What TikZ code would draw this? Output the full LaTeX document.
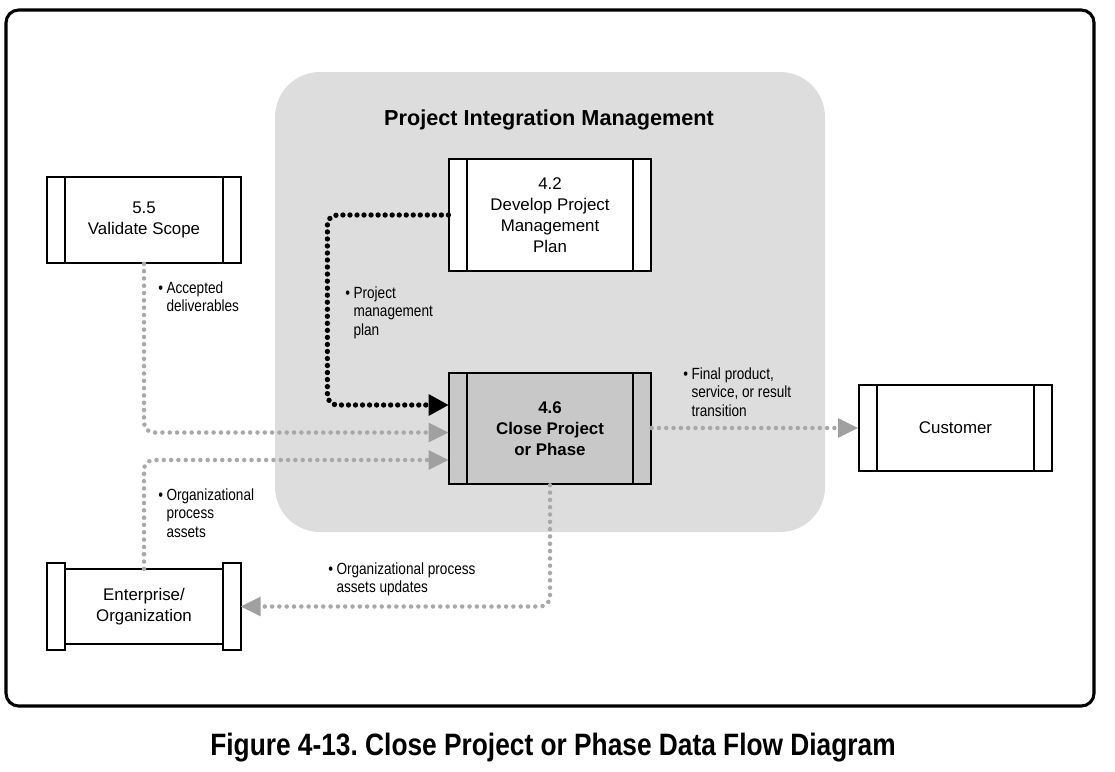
\documentclass[tikz,border=0pt]{standalone}
\usepackage{fontspec}
\setmainfont{Liberation Sans}
\newfontfamily\narrowfont{Liberation Sans}[FakeStretch=0.84]
\newfontfamily\captionfont{Liberation Sans}[FakeStretch=0.85]
\usepackage{xcolor}
\usepackage{tikz}
\usetikzlibrary{arrows.meta, positioning, calc}
\definecolor{pimgray}{RGB}{221,221,221}
\definecolor{closegray}{RGB}{200,200,200}
\definecolor{flowgray}{RGB}{168,168,168}
\definecolor{tipgray}{RGB}{160,160,160}
\frenchspacing

\newcommand{\dflabel}[1]{\begin{tabular}[t]{@{}l@{\hspace{2.5pt}}l@{}}\textbullet&\begin{tabular}[t]{@{}l@{}}#1\end{tabular}\end{tabular}}

\tikzset{
  procbox/.style={draw, line width=1.3pt, align=center, inner sep=0pt,
    minimum width=143.2pt, minimum height=79.4pt,
    font=\fontsize{12}{15}\selectfont,
    path picture={\draw[line width=1.3pt]
      ([xshift=12.8pt]path picture bounding box.north west) -- ([xshift=12.8pt]path picture bounding box.south west)
      ([xshift=-12.8pt]path picture bounding box.north east) -- ([xshift=-12.8pt]path picture bounding box.south east);}},
  extbox/.style={procbox, minimum width=137.5pt, minimum height=61pt},
  entbox/.style={align=center, inner sep=0pt, minimum width=137.5pt, minimum height=61.7pt,
    font=\fontsize{12}{15}\selectfont},
  boxline/.style={line width=1.3pt},
  flowtext/.style={anchor=base west, inner sep=0pt, font=\narrowfont\fontsize{11.5}{13.2}\selectfont},
  dataflow/.style={draw=flowgray, line width=3.2pt, line cap=round, dash pattern=on 0pt off 5.2pt,
    rounded corners=7pt, -{Triangle[length=14pt, width=14pt, color=tipgray, line width=0pt]}},
  pmflow/.style={draw=black, line width=3.8pt, line cap=round, dash pattern=on 0pt off 5pt,
    rounded corners=7pt, -{Triangle[length=14pt, width=15.5pt, line width=0pt]}}
}

\begin{document}
\begin{tikzpicture}[x=0.025cm, y=-0.025cm]
  \useasboundingbox (0,0) rectangle (1115,771);
  \draw[line width=2.2pt, rounded corners=9pt] (6,10) rectangle (1094,706);
  \fill[pimgray, rounded corners=32pt] (275,72) rectangle (825,532);
  \node[font=\bfseries\fontsize{15.4}{18}\selectfont] (pim) at (549,120) {Project Integration Management};

  \node[procbox, fill=white] (dev) at (550,215) {4.2\\Develop Project\\Management\\Plan};
  \node[procbox, fill=closegray, font=\bfseries\fontsize{12}{15}\selectfont] (close) at (550,428.5) {4.6\\Close Project\\or Phase};
  \node[extbox, fill=white] (vs) at (144,220) {5.5\\Validate Scope};
  \node[extbox, fill=white] (cust) at (955.5,428) {Customer};
  \node[entbox] (ent) at (144,606.5) {Enterprise/\\Organization};
  \draw[boxline] (ent.north west) rectangle ($(ent.south west)+(18,0)$)
    ($(ent.north east)+(-18,0)$) rectangle (ent.south east)
    ($(ent.north west)+(18,6)$) -- ($(ent.north east)+(-18,6)$)
    ($(ent.south west)+(18,-6)$) -- ($(ent.south east)+(-18,-6)$);

  \draw[pmflow] (dev.west) -| ($(close.west)+(-121,-23.5)$) -- ($(close.west)+(0,-23.5)$);
  \draw[dataflow] (vs.south) |- ($(close.west)+(0,4)$);
  \draw[dataflow] ($(ent.north)+(0,6)$) |- ($(close.west)+(0,31.5)$);
  \draw[dataflow] (close.south) |- (ent.east);
  \draw[dataflow] (close.east |- cust.west) -- (cust.west);

  \node[flowtext] (lblacc) at (158,293) {\dflabel{Accepted\\deliverables}};
  \node[flowtext] (lblpmp) at (345,298) {\dflabel{Project\\management\\plan}};
  \node[flowtext] (lblfin) at (683,379) {\dflabel{Final product,\\service, or result\\transition}};
  \node[flowtext] (lblopa) at (158,500) {\dflabel{Organizational\\process\\assets}};
  \node[flowtext] (lblupd) at (328,574) {\dflabel{Organizational process\\assets updates}};

  \node[font=\captionfont\bfseries\fontsize{22}{26}\selectfont] (cap) at (553,748) {Figure 4-13. Close Project or Phase Data Flow Diagram};
\end{tikzpicture}
\end{document}
